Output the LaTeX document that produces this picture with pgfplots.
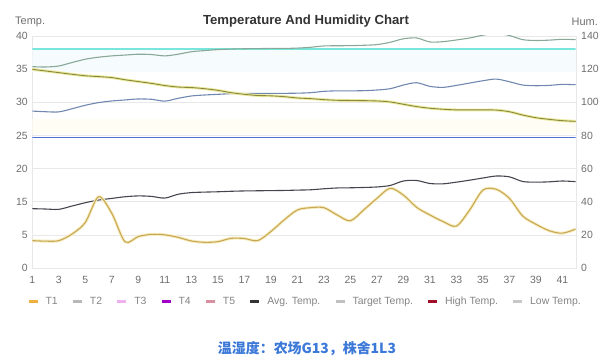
\documentclass[border=0pt]{standalone}
\usepackage{pgfplots}
\pgfplotsset{compat=1.18}
\usepackage{pgfplotstable}
\usepackage{fontspec}
\setmainfont{Liberation Sans}
\newfontfamily\cjk{Noto Sans CJK SC}
\definecolor{tickgray}{HTML}{6E6E6E}
\definecolor{titlegray}{HTML}{333333}
\definecolor{gridgray}{HTML}{E8E8E8}
\definecolor{cyanline}{HTML}{78E6DC}
\definecolor{greengray}{HTML}{88A898}
\definecolor{bluegray}{HTML}{7088B0}
\definecolor{olivecore}{HTML}{8A8840}
\definecolor{olivehalo}{HTML}{ECEA9C}
\definecolor{tonecore}{HTML}{C8A858}
\definecolor{tonehalo}{HTML}{F6ECBC}
\definecolor{avgline}{HTML}{45454F}
\definecolor{blueline}{HTML}{4F6FD0}
\definecolor{capblue}{HTML}{3B78D8}
\definecolor{bandyellow}{HTML}{FFFDF4}
\definecolor{bandcyan}{HTML}{F6FBFD}
\definecolor{lgT1}{HTML}{F0B040}
\definecolor{lgT2}{HTML}{B8B8B8}
\definecolor{lgT3}{HTML}{F0B0F0}
\definecolor{lgT4}{HTML}{A000C8}
\definecolor{lgT5}{HTML}{D890A0}
\definecolor{lgAvg}{HTML}{333333}
\definecolor{lgTarget}{HTML}{C0C0C0}
\definecolor{lgHigh}{HTML}{A01028}
\definecolor{lgLow}{HTML}{C8C8C8}

\pgfplotstableread{
x y
1 16.5
2 16.2
3 16.5
4 20.5
5 27.5
6 43
7 33
8 15.8
9 19
10 20.3
11 20
12 18.5
13 16.3
14 15.5
15 15.9
16 17.9
17 17.8
18 16.5
19 22
20 29
21 35
22 36.4
23 36.4
24 32
25 28.5
26 35
27 42
28 48.1
29 44
30 36.6
31 32
32 28
33 25.3
34 35
35 47
36 47.5
37 42
38 31.4
39 26.4
40 22.5
41 21
42 23.5
}\tone

\pgfplotstableread{
x y
1 35.8
2 35.6
3 35.4
4 37.4
5 39.4
6 41
7 42
8 43
9 43.5
10 43.2
11 42.2
12 44.5
13 45.5
14 45.8
15 46
16 46.3
17 46.5
18 46.6
19 46.7
20 46.8
21 47
22 47.2
23 47.8
24 48.3
25 48.4
26 48.6
27 48.9
28 49.8
29 52.5
30 52.8
31 51
32 50.8
33 51.8
34 53
35 54.3
36 55.5
37 55
38 52.2
39 51.8
40 52
41 52.5
42 52.1
}\avg

\pgfplotstableread{
x y
1 94.7
2 94.3
3 94.2
4 96.1
5 98.2
6 99.8
7 100.8
8 101.4
9 102
10 101.8
11 100.7
12 102.4
13 103.8
14 104.4
15 104.8
16 105.2
17 105.4
18 105.4
19 105.4
20 105.4
21 105.5
22 105.8
23 106.6
24 106.9
25 106.9
26 107
27 107.4
28 108.2
29 110.4
30 111.8
31 109.6
32 109
33 110.2
34 111.6
35 113
36 114
37 112.4
38 110.4
39 110
40 110.2
41 110.8
42 110.6
}\bgray

\pgfplotstableread{
x y
1 121.5
2 121.3
3 121.9
4 124
5 126
6 127.2
7 128
8 128.5
9 129
10 128.8
11 128
12 129
13 130.5
14 131.2
15 131.8
16 132.1
17 132.3
18 132.4
19 132.5
20 132.5
21 132.7
22 133.2
23 134
24 134.1
25 134.2
26 134.4
27 134.8
28 136.2
29 138.3
30 138.8
31 136.4
32 136.6
33 137.6
34 138.8
35 140.5
36 141.5
37 140.3
38 137.8
39 137.3
40 137.5
41 138
42 137.8
}\ggray

\pgfplotstableread{
x y
1 119.9
2 118.9
3 117.9
4 116.9
5 116
6 115.5
7 114.9
8 113.6
9 112.5
10 111.4
11 110.1
12 109.2
13 108.9
14 108.2
15 107.2
16 105.8
17 104.8
18 104.1
19 103.9
20 103.4
21 102.6
22 102.2
23 101.6
24 101.2
25 101.1
26 101
27 100.8
28 100.2
29 98.8
30 97.4
31 96.4
32 95.8
33 95.4
34 95.4
35 95.4
36 95.3
37 94.3
38 92.3
39 90.7
40 89.7
41 88.9
42 88.5
}\olive

\begin{document}
\begin{tikzpicture}
\path[use as bounding box] (0,0) rectangle (615bp,363bp);
\begin{axis}[
  at={(32.3bp,95bp)}, anchor=south west,
  scale only axis, width=543.4bp, height=232bp,
  xmin=1, xmax=42, ymin=0, ymax=140,
  xtick={1,3,...,41},
  ytick={0,20,...,140},
  yticklabels={0,5,15,20,25,30,35,40},
  major tick length=0pt,
  axis line style={draw=gridgray},
  ymajorgrids, major grid style={draw=gridgray, line width=0.6pt},
  tick label style={font=\fontsize{10.5}{12}\selectfont, text=tickgray},
  /pgf/number format/assume math mode=true,
  xticklabel style={yshift=-5bp},
  yticklabel style={xshift=-1bp},
  legend columns=9,
  legend style={draw=none, fill=none, at={(0.502,-0.145)}, anchor=center,
    font=\fontsize{10.5}{12}\selectfont, text=tickgray!85,
    /tikz/every even column/.append style={column sep=12bp}},
  legend image code/.code={\draw[#1, line width=2.3bp] (0bp,0bp) -- (9bp,0bp);
    \path[draw=none, fill=none] (0bp,0bp) rectangle (15bp,0.1bp);},
]
\addlegendimage{lgT1}\addlegendentry{T1}
\addlegendimage{lgT2}\addlegendentry{T2}
\addlegendimage{lgT3}\addlegendentry{T3}
\addlegendimage{lgT4}\addlegendentry{T4}
\addlegendimage{lgT5}\addlegendentry{T5}
\addlegendimage{lgAvg}\addlegendentry{Avg. Temp.}
\addlegendimage{lgTarget}\addlegendentry{Target Temp.}
\addlegendimage{lgHigh}\addlegendentry{High Temp.}
\addlegendimage{lgLow}\addlegendentry{Low Temp.}

\addplot[forget plot, draw=none, fill=bandcyan] coordinates {(1,118) (42,118) (42,132.3) (1,132.3)} -- cycle;
\addplot[forget plot, draw=none, fill=bandyellow] coordinates {(1,81) (42,81) (42,90) (1,90)} -- cycle;
\addplot[forget plot, blueline, line width=1.2pt] coordinates {(1,78.8) (42,78.8)};
\addplot[forget plot, cyanline, line width=1.8pt] coordinates {(1,132.3) (42,132.3)};
\addplot[forget plot, greengray, line width=1.1pt, smooth] table {\ggray};
\addplot[forget plot, bluegray, line width=1.1pt, smooth] table {\bgray};
\addplot[forget plot, olivehalo, line width=2.8pt, smooth] table {\olive};
\addplot[forget plot, olivecore, line width=0.9pt, smooth] table {\olive};
\addplot[forget plot, avgline, line width=1.1pt, smooth] table {\avg};
\addplot[forget plot, tonehalo, line width=3pt, smooth] table {\tone};
\addplot[forget plot, tonecore, line width=1.1pt, smooth] table {\tone};
\end{axis}
% right axis labels
\foreach \v in {0,20,40,60,80,100,120,140}{
  \node[anchor=west, font=\fontsize{10.5}{12}\selectfont, text=tickgray, inner sep=0pt] at ({581bp},{(95+\v*1.657143)*1bp}) {\v};
}
\node[font=\bfseries\fontsize{13.2}{15}\selectfont, text=titlegray] at (306bp,342bp) {Temperature And Humidity Chart};
\node[anchor=west, font=\fontsize{11}{13}\selectfont, text=tickgray, inner sep=0pt] at (15bp,341bp) {Temp.};
\node[anchor=east, font=\fontsize{11}{13}\selectfont, text=tickgray, inner sep=0pt] at (598bp,341bp) {Hum.};
\node[font=\cjk\bfseries\fontsize{14}{16}\selectfont, text=capblue] at (307bp,15bp) {温湿度：农场G13，株舍1L3};
\end{tikzpicture}
\end{document}
